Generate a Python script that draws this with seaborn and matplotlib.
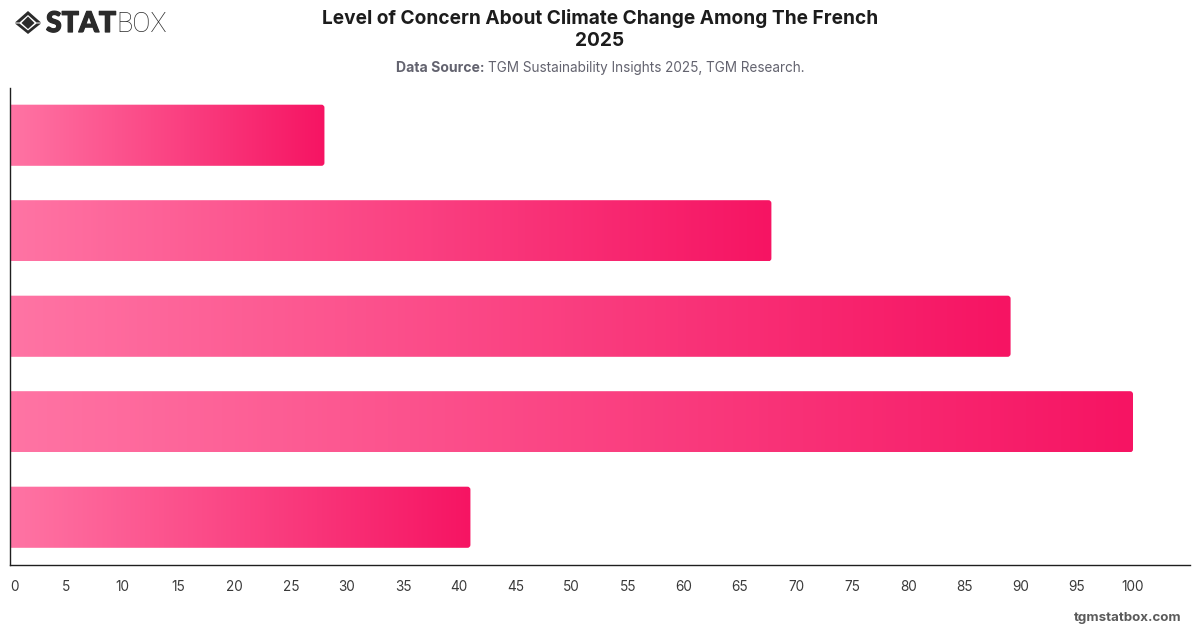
import numpy as np
import pandas as pd
import matplotlib
matplotlib.use("Agg")
import matplotlib.pyplot as plt
import matplotlib.patheffects as pe
import seaborn as sns
from matplotlib.colors import LinearSegmentedColormap
from matplotlib.patches import PathPatch, Polygon
from matplotlib.path import Path

# Survey responses, top row to bottom row
rows = ["1", "2", "3", "4", "5"]
shares = [28, 67.8, 89.1, 100, 41]
x_ticks = list(range(0, 101, 5))

title_lines = "Level of Concern About Climate Change Among The French\n2025"
source_bold = "Data Source:"
source_text = "TGM Sustainability Insights 2025, TGM Research."
site = "tgmstatbox.com"

W, H = 1200, 628
sns.set_theme(style="white")
plt.rcParams["font.family"] = ["Inter", "DejaVu Sans"]

fig = plt.figure(figsize=(W / 100, H / 100), dpi=100, facecolor="white")
left, right, top, bottom = 10.0, 1190.0, 87.5, 565.0
ax = fig.add_axes([left / W, 1 - bottom / H, (right - left) / W, (bottom - top) / H])
x_max = (right - left) / 11.23

df = pd.DataFrame({"row": rows, "share": shares})
sns.barplot(data=df, y="row", x="share", orient="h", width=0.64,
            color="#fb3f80", saturation=1, ax=ax)

ax.set_xlim(0, x_max)
ax.set_ylim(4.5, -0.5)
ax.set_xlabel("")
ax.set_ylabel("")
ax.set_yticks([])
ax.set_xticks(x_ticks)
ax.tick_params(axis="x", length=0, pad=11, labelsize=9.8, labelcolor="#3a3a3a")
for spine in ("top", "right"):
    ax.spines[spine].set_visible(False)
for spine in ("left", "bottom"):
    ax.spines[spine].set_color("#1f1f1f")
    ax.spines[spine].set_linewidth(1.0)

# The first label sits just inside the axis instead of centred on it
first_label = ax.get_xticklabels()[0]
first_label.set_horizontalalignment("left")

# Each bar gets its own left-to-right gradient, clipped to a shape with rounded right corners
pink = LinearSegmentedColormap.from_list("pink", ["#ff74a4", "#f61463"])
ramp = np.linspace(0, 1, 256).reshape(1, -1)
rx = 3 / 11.23
ry = 3 / ((bottom - top) / 5)
for bar in list(ax.patches):
    x0, y0 = bar.get_x(), bar.get_y()
    x1, y1 = x0 + bar.get_width(), y0 + bar.get_height()
    outline = Path(
        [(x0, y0), (x1 - rx, y0), (x1, y0), (x1, y0 + ry),
         (x1, y1 - ry), (x1, y1), (x1 - rx, y1), (x0, y1), (x0, y0)],
        [Path.MOVETO, Path.LINETO, Path.CURVE3, Path.CURVE3,
         Path.LINETO, Path.CURVE3, Path.CURVE3, Path.LINETO, Path.CLOSEPOLY],
    )
    clip = PathPatch(outline, transform=ax.transData, facecolor="none", edgecolor="none")
    ax.add_patch(clip)
    img = ax.imshow(ramp, extent=(x0, x1, y1, y0), cmap=pink, aspect="auto",
                    interpolation="bilinear", zorder=2)
    img.set_clip_path(clip)
    bar.set_visible(False)
ax.set_xlim(0, x_max)
ax.set_ylim(4.5, -0.5)

# Heading block
fig.text(600 / W, 1 - 29.8 / H, title_lines, ha="center", va="center", fontsize=13.75,
         fontweight="bold", color="#1c1c1c", linespacing=1.3)
fig.text(484 / W, 1 - 68.3 / H, source_bold, ha="right", va="center", fontsize=10.1,
         fontweight="bold", color="#63636f")
fig.text(487.5 / W, 1 - 68.3 / H, source_text, ha="left", va="center", fontsize=9.75,
         color="#63636f")

# Footer
fig.text(1181 / W, 1 - 617.5 / H, site, ha="right", va="center", fontsize=9.6,
         fontweight="bold", color="#5a5a5a")

# Brand mark: nested diamonds and wordmark
def px(points):
    return [(x / W, 1 - y / H) for x, y in points]

dark = "#2b2b2b"
for shape in (
    [(15, 22.5), (28, 11), (41, 22.5), (36.5, 22.5), (28, 15), (19.5, 22.5)],
    [(15, 23.5), (28, 34), (41, 23.5), (36.5, 23.5), (28, 30.5), (19.5, 23.5)],
    [(21.5, 23), (28, 16.5), (34.5, 23), (28, 29)],
):
    fig.add_artist(Polygon(px(shape), closed=True, transform=fig.transFigure,
                           facecolor=dark, edgecolor="none"))
fig.text(46 / W, 1 - 24 / H, "STAT", ha="left", va="center", fontsize=20.5,
         family="Lato", fontweight="black", color=dark,
         path_effects=[pe.withStroke(linewidth=0.9, foreground=dark)])
fig.text(116 / W, 1 - 24 / H, "BOX", ha="left", va="center", fontsize=19.5,
         family="Roboto", fontweight="light", color=dark)

fig.savefig("out.png", dpi=100, facecolor="white")
